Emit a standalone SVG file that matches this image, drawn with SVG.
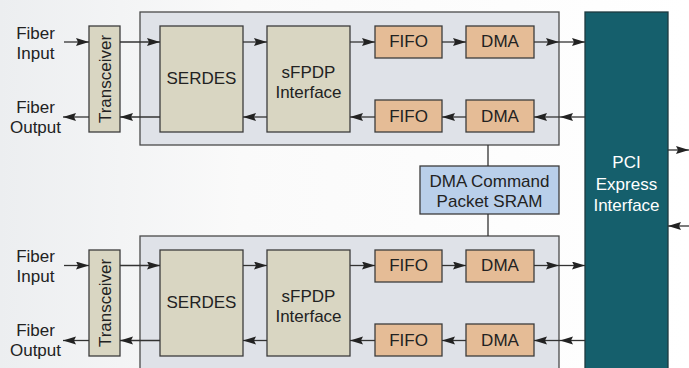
<svg xmlns="http://www.w3.org/2000/svg" width="689" height="368" viewBox="0 0 689 368">
<defs>
<linearGradient id="bg" x1="0" y1="0" x2="1" y2="0">
<stop offset="0" stop-color="#eceef0"/>
<stop offset="0.35" stop-color="#fafafa"/>
<stop offset="1" stop-color="#ffffff"/>
</linearGradient>
<marker id="ah" markerUnits="userSpaceOnUse" markerWidth="14" markerHeight="10" refX="13" refY="4" orient="auto">
<path d="M0,0 L13,4 L0,8 L2,4 z" fill="#222"/>
</marker>
<style>
.panel{fill:#dfe2e8;stroke:#4a4a4a;stroke-width:1.3}
.tan{fill:#d9d6c2;stroke:#3c3c3c;stroke-width:1.3}
.fifo{fill:#e5bc96;stroke:#3c3c3c;stroke-width:1.3}
.sram{fill:#b9cfea;stroke:#3c3c3c;stroke-width:1.3}
.pci{fill:#155f6c;stroke:#1e3a40;stroke-width:1.3}
text{font-family:"Liberation Sans",Arial,sans-serif;font-size:17px;fill:#222;text-anchor:middle}
.w{fill:#ffffff}
.c line{stroke:#333;stroke-width:1.3;marker-end:url(#ah)}
.c line.p{marker-end:none}
</style>
</defs>
<rect x="0" y="0" width="689" height="368" fill="url(#bg)"/>

<g id="panel-top"><rect class="panel" x="140" y="12" width="419" height="133"/></g>
<g id="panel-bottom"><rect class="panel" x="140" y="236" width="419" height="140"/></g>

<g id="fiber-in-top"><text x="35.5" y="39">Fiber</text><text x="35.5" y="59">Input</text></g>
<g id="fiber-out-top"><text x="35.5" y="112.5">Fiber</text><text x="35.5" y="133">Output</text></g>
<g id="fiber-in-bottom"><text x="35.5" y="262">Fiber</text><text x="35.5" y="282">Input</text></g>
<g id="fiber-out-bottom"><text x="35.5" y="336">Fiber</text><text x="35.5" y="356">Output</text></g>

<g id="transceiver-top"><rect class="tan" x="89" y="26" width="31" height="106"/><text transform="translate(110.5,79) rotate(-90)">Transceiver</text></g>
<g id="serdes-top"><rect class="tan" x="160" y="26" width="83" height="106"/><text x="201.5" y="84">SERDES</text></g>
<g id="sfpdp-top"><rect class="tan" x="267" y="26" width="83" height="106"/><text x="308.5" y="77.5">sFPDP</text><text x="308.5" y="98">Interface</text></g>
<g id="fifo-tx-top"><rect class="fifo" x="375" y="26" width="67" height="32"/><text x="408.5" y="47">FIFO</text></g>
<g id="dma-tx-top"><rect class="fifo" x="466" y="26" width="68" height="32"/><text x="500" y="47">DMA</text></g>
<g id="fifo-rx-top"><rect class="fifo" x="375" y="100" width="67" height="32"/><text x="408.5" y="122">FIFO</text></g>
<g id="dma-rx-top"><rect class="fifo" x="466" y="100" width="68" height="32"/><text x="500" y="122">DMA</text></g>

<g id="transceiver-bottom"><rect class="tan" x="89" y="250" width="31" height="106"/><text transform="translate(110.5,303) rotate(-90)">Transceiver</text></g>
<g id="serdes-bottom"><rect class="tan" x="160" y="250" width="83" height="106"/><text x="201.5" y="308">SERDES</text></g>
<g id="sfpdp-bottom"><rect class="tan" x="267" y="250" width="83" height="106"/><text x="308.5" y="301.5">sFPDP</text><text x="308.5" y="322">Interface</text></g>
<g id="fifo-tx-bottom"><rect class="fifo" x="375" y="250" width="67" height="32"/><text x="408.5" y="271">FIFO</text></g>
<g id="dma-tx-bottom"><rect class="fifo" x="466" y="250" width="68" height="32"/><text x="500" y="271">DMA</text></g>
<g id="fifo-rx-bottom"><rect class="fifo" x="375" y="324" width="67" height="32"/><text x="408.5" y="346">FIFO</text></g>
<g id="dma-rx-bottom"><rect class="fifo" x="466" y="324" width="68" height="32"/><text x="500" y="346">DMA</text></g>

<g id="sram"><rect class="sram" x="420" y="166" width="139" height="48"/><text x="489.5" y="187">DMA Command</text><text x="489.5" y="207">Packet SRAM</text></g>

<g id="pci"><rect class="pci" x="585" y="12" width="83" height="370"/><text class="w" x="626.5" y="168">PCI</text><text class="w" x="626.5" y="189.5">Express</text><text class="w" x="626.5" y="211">Interface</text></g>

<g id="connectors" class="c">
<line x1="64" y1="42" x2="89" y2="42"/>
<line x1="120" y1="42" x2="160" y2="42"/>
<line x1="243" y1="42" x2="267" y2="42"/>
<line x1="350" y1="42" x2="375" y2="42"/>
<line x1="442" y1="42" x2="466" y2="42"/>
<line x1="534" y1="42" x2="559" y2="42"/>
<line x1="559" y1="42" x2="585" y2="42"/>
<line x1="585" y1="117" x2="560" y2="117"/>
<line x1="560" y1="117" x2="534" y2="117"/>
<line x1="466" y1="117" x2="442" y2="117"/>
<line x1="375" y1="117" x2="350" y2="117"/>
<line x1="267" y1="117" x2="243" y2="117"/>
<line x1="160" y1="117" x2="120" y2="117"/>
<line x1="89" y1="117" x2="63" y2="117"/>

<line x1="64" y1="265.5" x2="89" y2="265.5"/>
<line x1="120" y1="265.5" x2="160" y2="265.5"/>
<line x1="243" y1="265.5" x2="267" y2="265.5"/>
<line x1="350" y1="265.5" x2="375" y2="265.5"/>
<line x1="442" y1="265.5" x2="466" y2="265.5"/>
<line x1="534" y1="265.5" x2="559" y2="265.5"/>
<line x1="559" y1="265.5" x2="585" y2="265.5"/>
<line x1="585" y1="340.5" x2="560" y2="340.5"/>
<line x1="560" y1="340.5" x2="534" y2="340.5"/>
<line x1="466" y1="340.5" x2="442" y2="340.5"/>
<line x1="375" y1="340.5" x2="350" y2="340.5"/>
<line x1="267" y1="340.5" x2="243" y2="340.5"/>
<line x1="160" y1="340.5" x2="120" y2="340.5"/>
<line x1="89" y1="340.5" x2="63" y2="340.5"/>

<line class="p" x1="488" y1="145" x2="488" y2="166"/>
<line class="p" x1="488" y1="214" x2="488" y2="236"/>
<line x1="668" y1="150" x2="689" y2="150"/>
<line x1="689" y1="226" x2="668" y2="226"/>
</g>
</svg>
